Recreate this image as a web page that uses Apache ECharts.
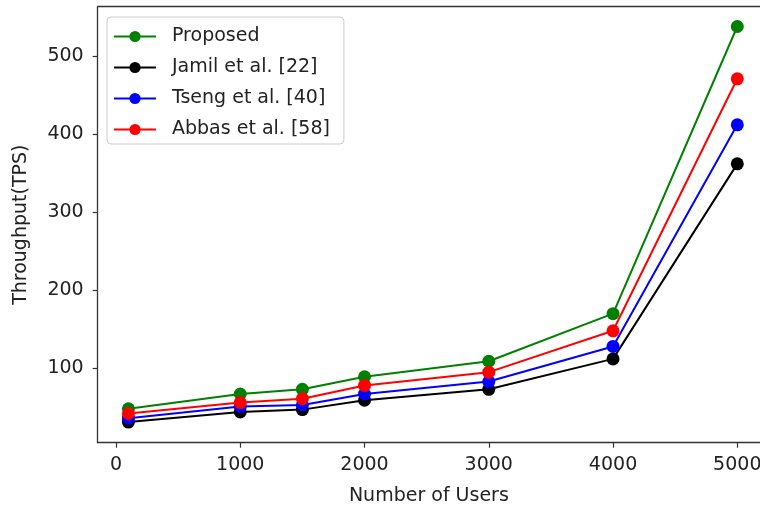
<!DOCTYPE html>
<html>
<head>
<meta charset="utf-8">
<script src="https://cdn.jsdelivr.net/npm/echarts@6/dist/echarts.min.js"></script>
<style>html,body{margin:0;padding:0;background:#fff}#c{width:760px;height:507px}</style>
</head>
<body>
<div id="c"></div>
<script>
const users = [100, 1000, 1500, 2000, 3000, 4000, 5000];
const proposed = [48, 67, 73, 89, 109, 170, 538];
const jamil = [31, 44, 47, 59, 73, 112, 362];
const tseng = [36, 51, 53, 67, 83, 128, 412];
const abbas = [42, 56, 61, 78, 95, 148, 471];
const xTicks = [0, 1000, 2000, 3000, 4000, 5000];
const yTicks = [100, 200, 300, 400, 500];
const seriesNames = ['Proposed', 'Jamil et al. [22]', 'Tseng et al. [40]', 'Abbas et al. [58]'];
const seriesColors = ['#008000', '#000000', '#0000ff', '#ff0000'];
const seriesValues = [proposed, jamil, tseng, abbas];

const font = 'DejaVu Sans';
const fs = 19;
const txt = '#222';
const spine = {show: true, onZero: false, lineStyle: {color: '#333', width: 1.3}};
const chart = echarts.init(document.getElementById('c'), null, {renderer: 'canvas'});
chart.setOption({
  animation: false,
  backgroundColor: '#ffffff',
  grid: {left: 97.7, right: 0, top: 6.7, bottom: 64.3, show: false, containLabel: false, outerBoundsMode: 'none'},
  legend: {
    orient: 'vertical', left: 107, top: 17,
    padding: [9, 14, 4, 6],
    itemWidth: 42, itemHeight: 14, itemGap: 10,
    backgroundColor: 'rgba(255,255,255,0.8)', borderColor: '#cccccc', borderWidth: 1, borderRadius: 4,
    textStyle: {fontFamily: font, fontSize: fs, lineHeight: 21, color: txt, padding: [0, 0, 0, 11]},
    data: seriesNames
  },
  xAxis: [{
    type: 'value', min: -147.3, max: 5182.7, position: 'bottom',
    name: 'Number of Users', nameLocation: 'middle', nameGap: 44,
    nameTextStyle: {fontFamily: font, fontSize: fs, color: txt},
    axisLine: spine,
    splitLine: {show: false},
    axisTick: {show: true, inside: false, length: 5, lineStyle: {color: '#333', width: 1.2}, customValues: xTicks},
    axisLabel: {fontFamily: font, fontSize: fs, color: txt, margin: 13, customValues: xTicks, formatter: v => String(v)}
  }, {
    type: 'value', min: -147.3, max: 5182.7, position: 'top',
    axisLine: spine, axisTick: {show: false}, axisLabel: {show: false}, splitLine: {show: false}
  }],
  yAxis: {
    type: 'value', min: 4.6, max: 563.4, position: 'left',
    name: 'Throughput(TPS)', nameLocation: 'middle', nameGap: 67, nameRotate: 90,
    nameTextStyle: {fontFamily: font, fontSize: fs, color: txt},
    axisLine: spine,
    splitLine: {show: false},
    axisTick: {show: true, inside: false, length: 5, lineStyle: {color: '#333', width: 1.2}, customValues: yTicks},
    axisLabel: {fontFamily: font, fontSize: fs, color: txt, margin: 14, customValues: yTicks, formatter: v => String(v)}
  },
  series: seriesNames.map((n, i) => ({
    name: n, type: 'line', xAxisIndex: 0,
    data: users.map((u, k) => [u, seriesValues[i][k]]),
    symbol: 'circle', symbolSize: 13, showSymbol: true,
    lineStyle: {color: seriesColors[i], width: 2},
    itemStyle: {color: seriesColors[i]},
    emphasis: {disabled: true}
  }))
});
</script>
</body>
</html>
